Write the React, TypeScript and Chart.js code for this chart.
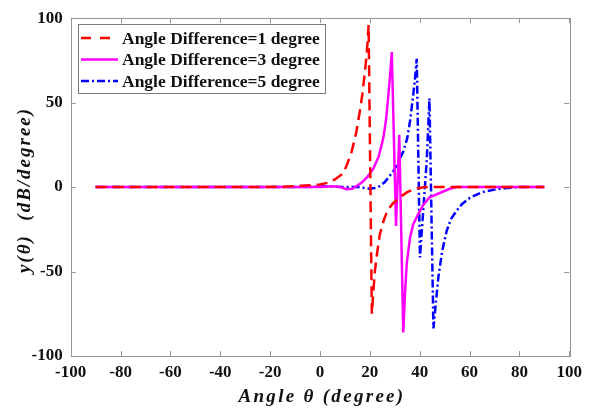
import { useEffect, useRef } from 'react';
import { Chart, registerables } from 'chart.js';

Chart.register(...registerables);

// ---- data ----
const seriesLabels = [
  'Angle Difference=1 degree',
  'Angle Difference=3 degree',
  'Angle Difference=5 degree',
];

const diff1X = [-90, -60, -30, -15, -8, -3, 0, 3, 6, 8.7, 10.5, 12.7, 14.5, 16, 17, 18, 18.8, 19.5, 20.8, 21.5, 22, 23, 24, 25.5, 27, 29, 32, 35, 38, 42, 50, 60, 70, 80, 90];
const diff1Y = [0, 0, 0, 0.2, 0.8, 1.2, 1.5, 2.5, 4.5, 7.5, 12, 21, 32, 45, 55, 68, 80, 96, -75, -60, -50, -38, -28, -20, -14, -10, -6, -3, -1, 0, 0, 0, 0, 0, 0];

const diff3X = [-90, -60, -30, -10, 0, 5, 8, 10.7, 13, 14.7, 17, 19, 21.4, 23.5, 25.4, 26.5, 27.4, 28.2, 28.8, 30.5, 31.8, 33.4, 34.1, 34.8, 36.1, 37.4, 39.4, 41.4, 44, 48, 52, 55, 60, 70, 80, 90];
const diff3Y = [0, 0, 0, 0, 0, 0.5, 0, -1.2, -1, 0.6, 3, 6, 11, 18, 29, 40, 54, 68, 80, -23, 31, -86, -63, -45, -30, -22, -16, -10.6, -6, -3.5, -1, 0, 0, 0, 0, 0];

const diff5X = [-90, -60, -30, -10, 0, 5, 10, 15, 18, 20, 22, 24, 26, 29.4, 31.5, 33.4, 35, 36.1, 37.2, 38.1, 38.8, 40.1, 41.4, 42.8, 43.9, 45.5, 46.5, 47.5, 49, 50.8, 52.5, 54.8, 57, 60.2, 65, 70, 75, 80, 90];
const diff5Y = [0, 0, 0, 0, 0.3, 0.3, 0, 0, -0.5, -1, -0.5, 0.6, 3, 9.4, 15, 21, 29, 39, 52, 64, 76, -41.6, -14, 15.3, 52.5, -83.7, -68, -53, -38, -26, -19, -14, -10, -6.3, -3, -1.5, -0.5, 0, 0];

const xTickValues = [-100, -80, -60, -40, -20, 0, 20, 40, 60, 80, 100];
const yTickValues = [-100, -50, 0, 50, 100];

const xAxisTitle = 'Angle θ (degree)';
const yAxisTitle = 'y(θ)  (dB/degree)';

const colors = ['#ff0000', '#ff00ff', '#0000ff'];
const dashes = [[11, 6], [], [8, 3, 2, 3]];

const toPoints = (xs: number[], ys: number[]) => xs.map((x, i) => ({ x, y: ys[i] }));

const FRAME = '#969696';
const TEXT = '#111111';

const decorPlugin = {
  id: 'decor',
  afterDraw(chart: any) {
    const ctx = chart.ctx as CanvasRenderingContext2D;
    const { left, right, top, bottom } = chart.chartArea;
    const xs = chart.scales.x;
    const ys = chart.scales.y;
    ctx.save();
    // frame
    ctx.strokeStyle = FRAME;
    ctx.lineWidth = 1;
    ctx.setLineDash([]);
    ctx.strokeRect(Math.round(left) + 0.5, Math.round(top) + 0.5, Math.round(right - left), Math.round(bottom - top));
    // inward ticks
    const tl = 5;
    ctx.beginPath();
    xTickValues.forEach((v) => {
      const px = Math.round(xs.getPixelForValue(v)) + 0.5;
      ctx.moveTo(px, bottom);
      ctx.lineTo(px, bottom - tl);
      ctx.moveTo(px, top);
      ctx.lineTo(px, top + tl);
    });
    yTickValues.forEach((v) => {
      const py = Math.round(ys.getPixelForValue(v)) + 0.5;
      ctx.moveTo(left, py);
      ctx.lineTo(left + tl, py);
      ctx.moveTo(right, py);
      ctx.lineTo(right - tl, py);
    });
    ctx.stroke();

    // legend
    const lx = 78, ly = 24, lw = 247, lh = 69;
    ctx.fillStyle = '#ffffff';
    ctx.fillRect(lx, ly, lw, lh);
    ctx.strokeStyle = '#7a7a7a';
    ctx.strokeRect(lx + 0.5, ly + 0.5, lw, lh);
    const rows = [38, 59.5, 81];
    ctx.font = 'bold 17.5px "Liberation Serif"';
    ctx.textBaseline = 'middle';
    ctx.textAlign = 'left';
    seriesLabels.forEach((label, i) => {
      ctx.strokeStyle = colors[i];
      ctx.lineWidth = 2.5;
      ctx.setLineDash(i === 0 ? [10, 9] : dashes[i]);
      ctx.beginPath();
      ctx.moveTo(81, rows[i]);
      ctx.lineTo(118, rows[i]);
      ctx.stroke();
      ctx.setLineDash([]);
      ctx.fillStyle = TEXT;
      ctx.fillText(label, 122, rows[i] + 1);
    });

    // axis titles
    ctx.fillStyle = TEXT;
    ctx.font = 'italic bold 19px "Liberation Serif"';
    (ctx as any).letterSpacing = '2.3px';
    ctx.textAlign = 'center';
    ctx.textBaseline = 'middle';
    ctx.fillText(xAxisTitle, 322, 397);
    (ctx as any).letterSpacing = '2px';
    ctx.translate(25, 190);
    ctx.rotate(-Math.PI / 2);
    ctx.fillText(yAxisTitle, 0, 0);
    ctx.restore();
  },
};

export default function App() {
  const ref = useRef<HTMLCanvasElement | null>(null);
  useEffect(() => {
    if (!ref.current) return;
    const tickFont = { family: '"Liberation Serif"', size: 17, weight: 'bold' as const };
    const chart = new Chart(ref.current, {
      type: 'line',
      data: {
        datasets: [
          { label: seriesLabels[0], data: toPoints(diff1X, diff1Y) },
          { label: seriesLabels[1], data: toPoints(diff3X, diff3Y) },
          { label: seriesLabels[2], data: toPoints(diff5X, diff5Y) },
        ].map((d, i) => ({
          ...d,
          borderColor: colors[i],
          backgroundColor: colors[i],
          borderWidth: 2.5,
          borderDash: dashes[i],
          pointRadius: 0,
          tension: 0,
          fill: false,
        })),
      },
      options: {
        animation: false,
        responsive: false,
        devicePixelRatio: 1,
        layout: { padding: { top: 16, right: 23.7, left: 0, bottom: 0 } },
        plugins: { legend: { display: false }, tooltip: { enabled: false } },
        scales: {
          x: {
            type: 'linear',
            min: -100,
            max: 100,
            afterBuildTicks: (s: any) => { s.ticks = xTickValues.map((v) => ({ value: v })); },
            afterFit: (s: any) => { s.height = 54; },
            grid: { display: false, drawTicks: false },
            border: { display: false },
            ticks: { font: tickFont, color: TEXT, padding: 6, maxRotation: 0, autoSkip: false },
          },
          y: {
            type: 'linear',
            min: -100,
            max: 100,
            afterBuildTicks: (s: any) => { s.ticks = yTickValues.map((v) => ({ value: v })); },
            afterFit: (s: any) => { s.width = 70.7; },
            grid: { display: false, drawTicks: false },
            border: { display: false },
            ticks: { font: tickFont, color: TEXT, padding: 8, autoSkip: false },
          },
        },
      },
      plugins: [decorPlugin],
    });
    return () => chart.destroy();
  }, []);
  return (
    <div style={{ position: 'absolute', left: 0, top: 0, width: 593, height: 410, background: '#ffffff' }}>
      <canvas ref={ref} width={593} height={410} style={{ width: 593, height: 410, display: 'block' }} />
    </div>
  );
}
